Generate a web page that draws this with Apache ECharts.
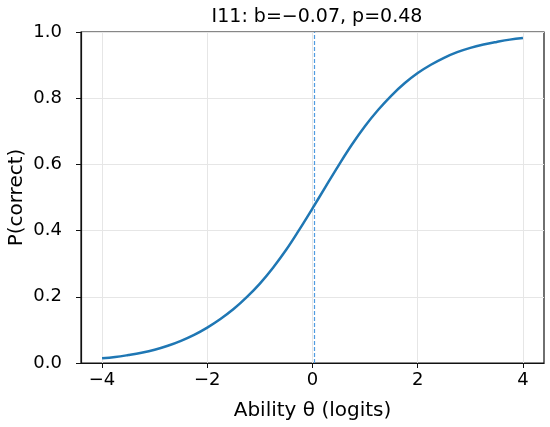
<!DOCTYPE html>
<html>
<head>
<meta charset="utf-8">
<script src="https://cdn.jsdelivr.net/npm/echarts@6/dist/echarts.min.js"></script>
<style>
  html, body { margin: 0; padding: 0; background: #fff; }
  #chart { width: 550px; height: 427px; }
</style>
</head>
<body>
<div id="chart"></div>
<script>
// ability values (logits) and the item curve
const theta = [-4, -3.75, -3.5, -3.25, -3, -2.75, -2.5, -2.25, -2, -1.75, -1.5, -1.25, -1, -0.75, -0.5, -0.25,
  0, 0.25, 0.5, 0.75, 1, 1.25, 1.5, 1.75, 2, 2.25, 2.5, 2.75, 3, 3.25, 3.5, 3.75, 4];
const pCorrect = [0.014, 0.018, 0.024, 0.031, 0.040, 0.052, 0.067, 0.085, 0.107, 0.133, 0.163, 0.199, 0.240, 0.288, 0.342, 0.403,
  0.467, 0.533, 0.598, 0.660, 0.716, 0.765, 0.808, 0.845, 0.876, 0.901, 0.922, 0.939, 0.952, 0.962, 0.970, 0.977, 0.982];
const xTicks = [-4, -2, 0, 2, 4];
const difficultyLine = 0.04;
const titleText = 'I11: b=\u22120.07, p=0.48';

const font = 'DejaVu Sans';
const minus = v => (v < 0 ? '\u2212' + Math.abs(v) : String(v));

const chart = echarts.init(document.getElementById('chart'));
const option = {
  animation: false,
  title: {
    text: titleText,
    left: 312, top: 3, textAlign: 'center',
    textStyle: { fontFamily: font, fontSize: 19, fontWeight: 'normal', color: '#000' }
  },
  grid: {
    left: 81, right: 6, top: 32, bottom: 64,
    outerBoundsMode: 'none', containLabel: false,
    show: true, borderColor: '#111', borderWidth: 1.2, backgroundColor: 'transparent'
  },
  xAxis: {
    type: 'value', min: -4.4, max: 4.4,
    name: 'Ability \u03b8 (logits)', nameLocation: 'middle', nameGap: 38, nameMoveOverlap: false,
    nameTextStyle: { fontFamily: font, fontSize: 20, color: '#000' },
    axisLine: { show: true, onZero: false, lineStyle: { color: '#111', width: 1.2 } },
    axisTick: { show: true, length: 5, customValues: xTicks, lineStyle: { color: '#111', width: 1 } },
    axisLabel: { customValues: xTicks, margin: 8, formatter: minus,
      fontFamily: font, fontSize: 18, color: '#000' },
    splitLine: { show: false }
  },
  yAxis: {
    type: 'value', min: 0, max: 1, interval: 0.2,
    name: 'P(correct)', nameLocation: 'middle', nameGap: 54, nameMoveOverlap: false,
    nameTextStyle: { fontFamily: font, fontSize: 20, color: '#000' },
    axisLine: { show: true, onZero: false, lineStyle: { color: '#111', width: 1.2 } },
    axisTick: { show: true, length: 5, lineStyle: { color: '#111', width: 1 } },
    axisLabel: { margin: 19, formatter: v => v.toFixed(1),
      fontFamily: font, fontSize: 18, color: '#000' },
    splitLine: { show: true, lineStyle: { color: '#e6e6e6', width: 1 } }
  },
  series: [
    {
      // vertical grid lines at the tick values
      type: 'line', data: [], silent: true, z: 0,
      markLine: {
        silent: true, symbol: 'none', label: { show: false }, z: 0,
        lineStyle: { color: '#e6e6e6', width: 1, type: 'solid' },
        data: xTicks.map(v => ({ xAxis: v }))
      }
    },
    {
      type: 'line', data: [], silent: true, z: 1,
      markLine: {
        silent: true, symbol: 'none', label: { show: false }, z: 1,
        lineStyle: { color: '#4f9be0', width: 1.2, type: [4, 2], opacity: 1 },
        data: [{ xAxis: difficultyLine, lineStyle: { color: '#4f9be0' } }]
      }
    },
    {
      type: 'line', z: 4,
      data: theta.map((t, i) => [t, pCorrect[i]]),
      showSymbol: false, smooth: 0.4,
      lineStyle: { color: '#1f77b4', width: 2.5 }
    }
  ]
};
chart.setOption(option);
</script>
</body>
</html>
